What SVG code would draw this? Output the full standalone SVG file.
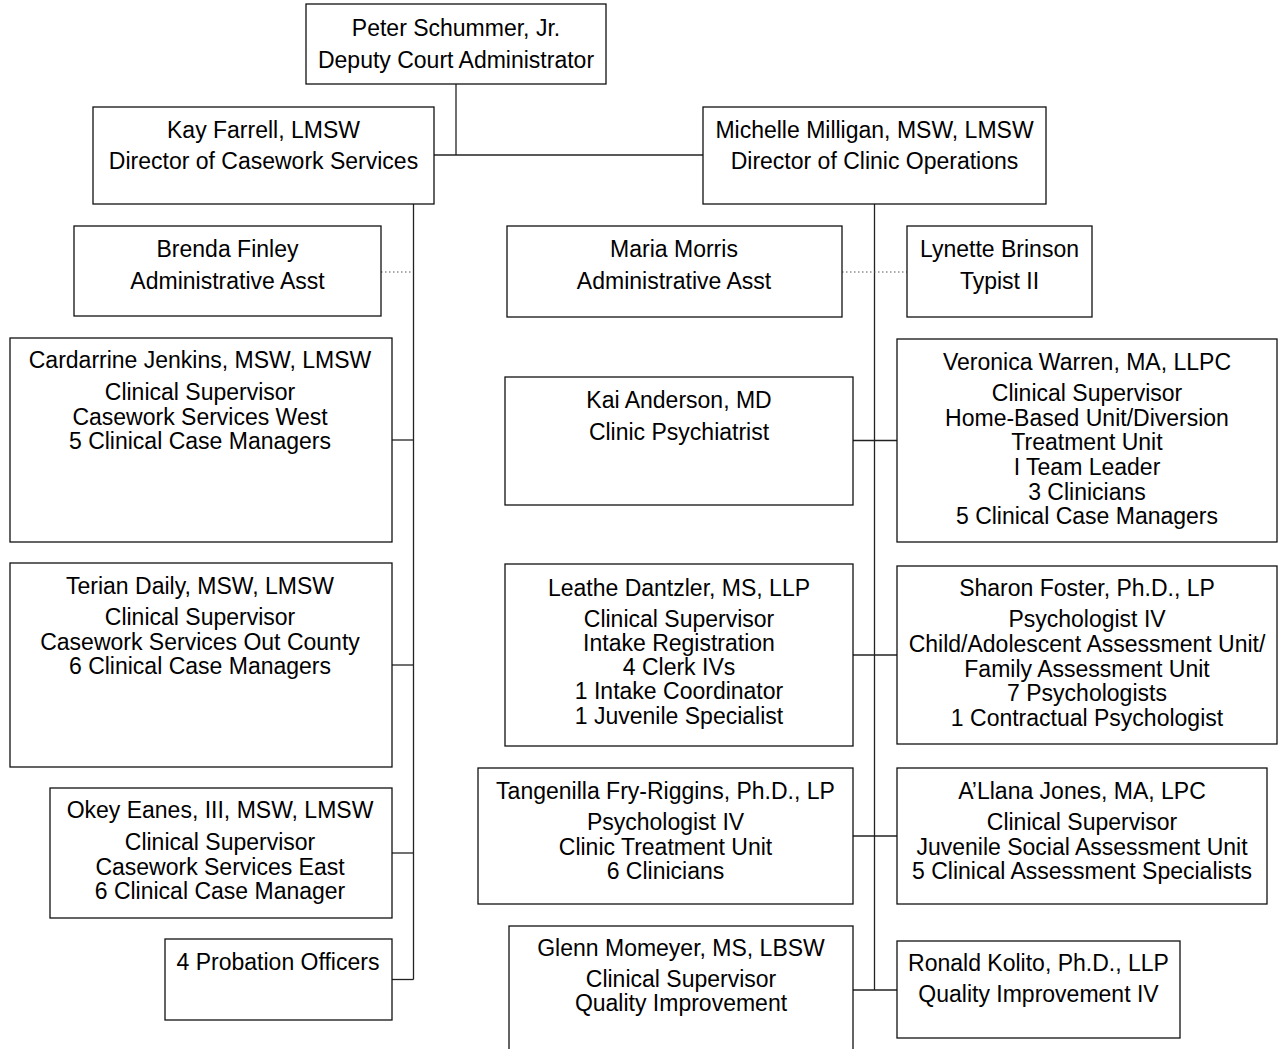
<svg xmlns="http://www.w3.org/2000/svg" width="1279" height="1049" viewBox="0 0 1279 1049">
<style>
.box{fill:#fff;stroke:#111;stroke-width:1.3}
.t{font-family:"Liberation Sans",Arial,sans-serif;font-size:23px;fill:#000;text-anchor:middle}
.ln{stroke:#222;stroke-width:1.3;fill:none}
.dot{stroke:#555;stroke-width:1;stroke-dasharray:1.5 2.5;fill:none}
</style>
<rect width="1279" height="1049" fill="#fff"/>
<g id="connectors">
<line class="ln" x1="456" y1="84" x2="456" y2="155"/>
<line class="ln" x1="434" y1="155" x2="703" y2="155"/>
<line class="ln" x1="413.5" y1="204" x2="413.5" y2="979.5"/>
<line class="ln" x1="874.5" y1="204" x2="874.5" y2="990"/>
<line class="dot" x1="381" y1="272" x2="413" y2="272"/>
<line class="dot" x1="842" y1="272" x2="907" y2="272"/>
<line class="ln" x1="392" y1="440" x2="413.5" y2="440"/>
<line class="ln" x1="392" y1="665" x2="413.5" y2="665"/>
<line class="ln" x1="392" y1="853" x2="413.5" y2="853"/>
<line class="ln" x1="392" y1="979.5" x2="413.5" y2="979.5"/>
<line class="ln" x1="853" y1="440.5" x2="897" y2="440.5"/>
<line class="ln" x1="853" y1="655" x2="897" y2="655"/>
<line class="ln" x1="853" y1="836" x2="897" y2="836"/>
<line class="ln" x1="853" y1="990" x2="897" y2="990"/>
</g>
<g id="peter"><rect class="box" x="306" y="4" width="300" height="80"/>
<text class="t" x="456" y="36">Peter Schummer, Jr.</text><text class="t" x="456" y="68">Deputy Court Administrator</text></g>
<g id="kay"><rect class="box" x="93" y="107" width="341" height="97"/>
<text class="t" x="263.5" y="138">Kay Farrell, LMSW</text><text class="t" x="263.5" y="169">Director of Casework Services</text></g>
<g id="michelle"><rect class="box" x="703" y="107" width="343" height="97"/>
<text class="t" x="874.5" y="138">Michelle Milligan, MSW, LMSW</text><text class="t" x="874.5" y="169">Director of Clinic Operations</text></g>
<g id="brenda"><rect class="box" x="74" y="226" width="307" height="90"/>
<text class="t" x="227.5" y="257">Brenda Finley</text><text class="t" x="227.5" y="289">Administrative Asst</text></g>
<g id="maria"><rect class="box" x="507" y="226" width="335" height="91"/>
<text class="t" x="674" y="257">Maria Morris</text><text class="t" x="674" y="289">Administrative Asst</text></g>
<g id="lynette"><rect class="box" x="907" y="226" width="185" height="91"/>
<text class="t" x="999.5" y="257">Lynette Brinson</text><text class="t" x="999.5" y="289">Typist II</text></g>
<g id="cardarrine"><rect class="box" x="10" y="338" width="382" height="204"/>
<text class="t" x="200" y="368">Cardarrine Jenkins, MSW, LMSW</text><text class="t" x="200" y="400">Clinical Supervisor</text><text class="t" x="200" y="424.5">Casework Services West</text><text class="t" x="200" y="449">5 Clinical Case Managers</text></g>
<g id="kai"><rect class="box" x="505" y="377" width="348" height="128"/>
<text class="t" x="679" y="408">Kai Anderson, MD</text><text class="t" x="679" y="440">Clinic Psychiatrist</text></g>
<g id="veronica"><rect class="box" x="897" y="339" width="380" height="203"/>
<text class="t" x="1087" y="370">Veronica Warren, MA, LLPC</text><text class="t" x="1087" y="400.5">Clinical Supervisor</text><text class="t" x="1087" y="425.5">Home-Based Unit/Diversion</text><text class="t" x="1087" y="450">Treatment Unit</text><text class="t" x="1087" y="475">I Team Leader</text><text class="t" x="1087" y="499.5">3 Clinicians</text><text class="t" x="1087" y="524">5 Clinical Case Managers</text></g>
<g id="terian"><rect class="box" x="10" y="563" width="382" height="204"/>
<text class="t" x="200" y="594">Terian Daily, MSW, LMSW</text><text class="t" x="200" y="625">Clinical Supervisor</text><text class="t" x="200" y="650">Casework Services Out County</text><text class="t" x="200" y="674">6 Clinical Case Managers</text></g>
<g id="leathe"><rect class="box" x="505" y="564" width="348" height="182"/>
<text class="t" x="679" y="595.5">Leathe Dantzler, MS, LLP</text><text class="t" x="679" y="626.5">Clinical Supervisor</text><text class="t" x="679" y="651">Intake Registration</text><text class="t" x="679" y="675">4 Clerk IVs</text><text class="t" x="679" y="699">1 Intake Coordinator</text><text class="t" x="679" y="724">1 Juvenile Specialist</text></g>
<g id="sharon"><rect class="box" x="897" y="566" width="380" height="178"/>
<text class="t" x="1087" y="596">Sharon Foster, Ph.D., LP</text><text class="t" x="1087" y="627">Psychologist IV</text><text class="t" x="1087" y="652">Child/Adolescent Assessment Unit/</text><text class="t" x="1087" y="677">Family Assessment Unit</text><text class="t" x="1087" y="701">7 Psychologists</text><text class="t" x="1087" y="726">1 Contractual Psychologist</text></g>
<g id="okey"><rect class="box" x="50" y="788" width="342" height="130"/>
<text class="t" x="220" y="818">Okey Eanes, III, MSW, LMSW</text><text class="t" x="220" y="850">Clinical Supervisor</text><text class="t" x="220" y="875">Casework Services East</text><text class="t" x="220" y="899">6 Clinical Case Manager</text></g>
<g id="tangenilla"><rect class="box" x="478" y="768" width="375" height="136"/>
<text class="t" x="665.5" y="799">Tangenilla Fry-Riggins, Ph.D., LP</text><text class="t" x="665.5" y="830">Psychologist IV</text><text class="t" x="665.5" y="855">Clinic Treatment Unit</text><text class="t" x="665.5" y="879">6 Clinicians</text></g>
<g id="allana"><rect class="box" x="897" y="768" width="370" height="136"/>
<text class="t" x="1082" y="799">A’Llana Jones, MA, LPC</text><text class="t" x="1082" y="830">Clinical Supervisor</text><text class="t" x="1082" y="855">Juvenile Social Assessment Unit</text><text class="t" x="1082" y="879">5 Clinical Assessment Specialists</text></g>
<g id="probation"><rect class="box" x="165" y="939" width="227" height="81"/>
<text class="t" x="278" y="970">4 Probation Officers</text></g>
<g id="glenn"><rect class="box" x="509" y="926" width="344" height="140"/>
<text class="t" x="681" y="956">Glenn Momeyer, MS, LBSW</text><text class="t" x="681" y="987">Clinical Supervisor</text><text class="t" x="681" y="1011">Quality Improvement</text></g>
<g id="ronald"><rect class="box" x="897" y="941" width="283" height="97"/>
<text class="t" x="1038.5" y="971">Ronald Kolito, Ph.D., LLP</text><text class="t" x="1038.5" y="1002">Quality Improvement IV</text></g>
</svg>
